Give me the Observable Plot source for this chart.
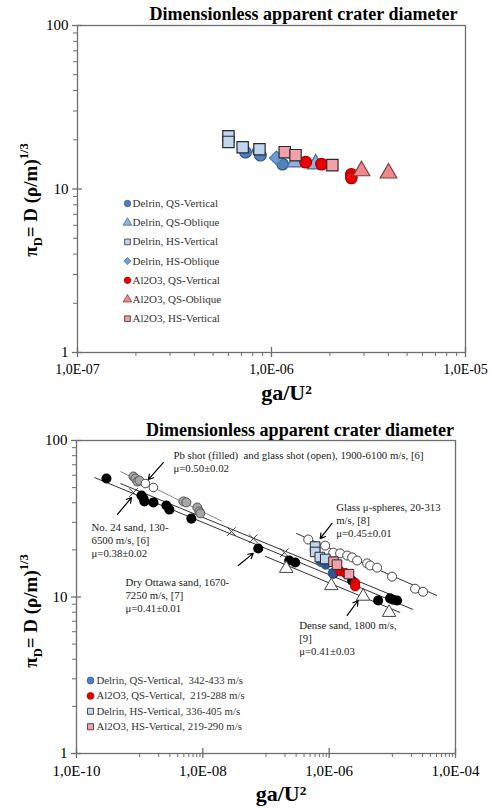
<!DOCTYPE html>
<html><head><meta charset="utf-8">
<script src="https://cdn.jsdelivr.net/npm/d3@7"></script>
<script src="https://cdn.jsdelivr.net/npm/@observablehq/plot@0.6"></script>
<style>
body{margin:0;background:#fff;width:492px;height:810px;overflow:hidden;font-family:'Liberation Serif',serif;}
#top,#bottom{position:absolute;left:0;}
#top{top:0px} #bottom{top:405px}
svg text{font-family:'Liberation Serif','Times New Roman',serif;}
</style></head><body>
<div id="top"></div><div id="bottom"></div>
<script>
// ---------- Data: this work (both panels) ----------
const delrinQSV_x = [7.35e-7, 8.57e-7, 8.77e-7, 1.14e-6];
const delrinQSV_y = [16.8, 17.1, 16.1, 14.2];
const delrinQSO_x = [1.33e-6, 1.69e-6];
const delrinQSO_y = [14.6, 14.2];
const delrinHSV_x = [6.0e-7, 6.0e-7, 7.1e-7, 8.67e-7];
const delrinHSV_y = [21.0, 19.4, 18.0, 17.5];
const delrinHSO_x = [1.06e-6];
const delrinHSO_y = [15.5];
const al2o3QSV_x = [1.50e-6, 1.81e-6, 2.58e-6, 2.58e-6];
const al2o3QSV_y = [14.6, 14.2, 12.3, 11.7];
const al2o3QSO_x = [2.91e-6, 4.01e-6];
const al2o3QSO_y = [12.9, 12.5];
const al2o3HSV_x = [1.17e-6, 1.33e-6, 2.06e-6];
const al2o3HSV_y = [16.8, 16.1, 14.0];

// ---------- Data: literature (bottom panel) ----------
const pbShot_x = [7.96e-10, 8.57e-10, 9.2e-10, 9.91e-10, 4.92e-9, 5.48e-9, 8.18e-9, 8.81e-9, 9.12e-9];
const pbShot_y = [58.9, 57.2, 54.7, 55.5, 40.8, 40.2, 37.3, 35.2, 34.2];
const glassShot_x = [1.23e-9, 1.65e-9];
const glassShot_y = [53.1, 50.1];
const no24Sand_x = [7.96e-10, 2.83e-8, 6.28e-8, 1.95e-7];
const no24Sand_y = [46.5, 26.2, 23.6, 19.2];
const ottawa_x = [2.98e-10, 1.07e-9, 1.15e-9, 1.19e-9, 1.65e-9, 2.65e-9, 2.95e-9, 6.58e-9, 7.53e-8, 2.33e-7, 2.90e-7, 1.16e-6, 2.31e-6, 5.96e-6, 9.2e-6, 1.03e-5, 1.19e-5];
const ottawa_y = [57.2, 44.5, 42.6, 40.8, 40.2, 38.4, 36.2, 31.7, 20.4, 17.1, 16.6, 14.1, 12.7, 9.5, 9.8, 9.6, 9.5];
const dense_x = [2.09e-7, 1.08e-6, 3.45e-6, 8.89e-6];
const dense_y = [15.2, 11.8, 10.1, 7.96];
const spheres_x = [4.66e-7, 8.65e-7, 1.16e-6, 1.49e-6, 1.93e-6, 2.31e-6, 2.77e-6, 3.99e-6, 4.45e-6, 5.74e-6, 9.9e-6, 2.29e-5, 3.06e-5];
const spheres_y = [23.3, 21.3, 19.2, 19.0, 18.4, 17.9, 17.1, 16.4, 15.9, 15.4, 13.5, 11.3, 10.8];

// fitted power-law lines (end points)
const fitX1 = [4.97e-10, 1.93e-10, 4.97e-10, 9.72e-8, 3.01e-7];
const fitY1 = [63.4, 58.0, 53.1, 18.2, 25.5];
const fitX2 = [2.03e-8, 2.13e-5, 1.33e-5, 1.33e-5, 5.11e-5];
const fitY2 = [30.4, 8.32, 9.78, 7.96, 10.2];

// annotations
const annoText = [
  "Pb shot (filled)  and glass shot (open), 1900-6100 m/s, [6]\nμ=0.50±0.02",
  "No. 24 sand, 130-\n6500 m/s, [6]\nμ=0.38±0.02",
  "Glass μ-spheres, 20-313\nm/s, [8]\nμ=0.45±0.01",
  "Dry Ottawa sand, 1670-\n7250 m/s, [7]\nμ=0.41±0.01",
  "Dense sand, 1800 m/s,\n[9]\nμ=0.41±0.03"
];
const annoX = [3.42e-9, 1.73e-10, 1.29e-6, 5.96e-10, 3.36e-7];
const annoY = [87.6, 30.4, 40.8, 13.5, 7.18];
const arrowX1 = [2.37e-9, 4.45e-10, 1.11e-6, 3.64e-8, 1.93e-6];
const arrowY1 = [72.3, 33.7, 29.5, 15.9, 7.62];
const arrowX2 = [1.37e-9, 7.42e-10, 7.21e-7, 6.28e-8, 2.87e-6];
const arrowY2 = [56.3, 43.2, 23.6, 19.0, 9.50];

// texts & ticks
const titleText = "Dimensionless apparent crater diameter";
const xLabel = "ga/U²";
const topLegend = ["Delrin, QS-Vertical", "Delrin, QS-Oblique", "Delrin, HS-Vertical", "Delrin, HS-Oblique", "Al2O3, QS-Vertical", "Al2O3, QS-Oblique", "Al2O3, HS-Vertical"];
const bottomLegend = ["Delrin, QS-Vertical,  342-433 m/s", "Al2O3, QS-Vertical,  219-288 m/s", "Delrin, HS-Vertical, 336-405 m/s", "Al2O3, HS-Vertical, 219-290 m/s"];
const topXTicks = [1e-7, 1e-6, 1e-5];
const bottomXTicks = [1e-10, 1e-8, 1e-6, 1e-4];
const yTicks = [1, 10, 100];
const mult = [2,3,4,5,6,7,8,9];

// ---------- styles ----------
const FONT = "'Liberation Serif', 'Times New Roman', serif";
const AX = "#6e6e6e";
const S = {
  dQSV: {symbol:"circle", fill:"#4f81bd", stroke:"#34598a"},
  dQSO: {symbol:"triangle", fill:"#8db3e2", stroke:"#4b6a92"},
  dHSV: {symbol:"square", fill:"#c2d5ee", stroke:"#2a2a2a"},
  dHSO: {symbol:"diamond2", fill:"#6f9bd6", stroke:"#4a78b0"},
  aQSV: {symbol:"circle", fill:"#ee0000", stroke:"#a80000"},
  aQSO: {symbol:"triangle", fill:"#ec8a8c", stroke:"#7a4040"},
  aHSV: {symbol:"square", fill:"#f2a1a9", stroke:"#2a2a2a"}
};

function fmtE(d){ const e = Math.round(Math.log10(d)); return "1,0E" + (e < 0 ? "-" : "+") + String(Math.abs(e)).padStart(2, "0"); }

function tickMarks(majorX, minorX, majorY, minorY, plotW, plotH){
  return [
    Plot.tickX(minorX, {x: d => d, stroke: AX, insetTop: plotH, insetBottom: -4}),
    Plot.tickX(majorX, {x: d => d, stroke: AX, strokeWidth: 1.3, insetTop: plotH - 5, insetBottom: -5}),
    Plot.tickY(minorY, {y: d => d, stroke: AX, insetLeft: -4, insetRight: plotW}),
    Plot.tickY(majorY, {y: d => d, stroke: AX, strokeWidth: 1.3, insetLeft: -5, insetRight: plotW - 5})
  ];
}

function series(xs, ys, st, r, extra={}){
  return Plot.dot(xs, {x: xs, y: ys, symbol: st.symbol, fill: st.fill, stroke: st.stroke, strokeWidth: 1.2, r, ...extra});
}

function addYLabel(svg, cx, cy){
  const t = d3.select(svg).append("text")
    .attr("transform", `translate(${cx},${cy}) rotate(-90)`)
    .attr("text-anchor", "middle")
    .attr("font-family", FONT).attr("font-weight", "bold").attr("font-size", 19).attr("fill", "#000");
  t.append("tspan").text("π");
  t.append("tspan").attr("font-size", 12.5).attr("dy", 5).text("D");
  t.append("tspan").attr("dy", -5).text("= D (ρ/m)");
  t.append("tspan").attr("font-size", 12.5).attr("dy", -9).text("1/3");
}

const txt = {fontFamily: FONT};

// ---------- top panel ----------
{
  const mL = 77, mR = 27, mT = 25, mB = 53, H = 405;
  const pw = 492 - mL - mR, ph = H - mT - mB;
  const minorX = [-7, -6].flatMap(e => mult.map(k => k * 10 ** e));
  const minorY = [0, 1].flatMap(e => mult.map(k => k * 10 ** e));
  const legStyles = [S.dQSV, S.dQSO, S.dHSV, S.dHSO, S.aQSV, S.aQSO, S.aHSV];
  const legendMarks = topLegend.flatMap((lab, i) => [
    Plot.dot([lab], {frameAnchor: "top-left", dx: 50, dy: 178 + i * 19.2, symbol: legStyles[i].symbol, fill: legStyles[i].fill, stroke: legStyles[i].stroke, strokeWidth: 0.8, r: 3.2}),
    Plot.text([lab], {...txt, frameAnchor: "top-left", lineAnchor: "middle", dx: 55, dy: 178 + i * 19.2, textAnchor: "start", fontSize: 11, fill: "#333", text: d => d})
  ]);
  const svg = Plot.plot({
    width: 492, height: H, marginLeft: mL, marginRight: mR, marginTop: mT, marginBottom: mB,
    style: {fontFamily: FONT, background: "#fff", color: "#000"},
    x: {type: "log", domain: [1e-7, 1e-5]},
    y: {type: "log", domain: [1, 100]},
    marks: [
      Plot.frame({stroke: AX, strokeWidth: 1.3}),
      ...tickMarks(topXTicks, minorX, yTicks, minorY, pw, ph),
      Plot.axisX({...txt, ticks: topXTicks, tickSize: 0, tickPadding: 12, tickFormat: fmtE, fontSize: 14, label: null}),
      Plot.axisY({...txt, ticks: yTicks, tickSize: 0, tickPadding: 9, tickFormat: d => String(d), fontSize: 15, label: null}),
      series(delrinQSV_x, delrinQSV_y, S.dQSV, 5.8),
      series(delrinQSO_x, delrinQSO_y, S.dQSO, 6.2),
      series(delrinHSO_x, delrinHSO_y, S.dHSO, 6.2),
      series(delrinHSV_x, delrinHSV_y, S.dHSV, 6.4),
      series(al2o3QSV_x, al2o3QSV_y, S.aQSV, 5.8),
      series(al2o3QSO_x, al2o3QSO_y, S.aQSO, 6.2),
      series(al2o3HSV_x, al2o3HSV_y, S.aHSV, 6.4),
      ...legendMarks,
      Plot.text([titleText], {...txt, frameAnchor: "top", lineAnchor: "middle", dx: 32, dy: -11, fontSize: 18, fontWeight: "bold", text: d => d}),
      Plot.text([xLabel], {...txt, frameAnchor: "bottom", lineAnchor: "bottom", dx: 15, dy: 47, fontSize: 22, fontWeight: "bold", text: d => d})
    ]
  });
  addYLabel(svg, 37, 200);
  document.getElementById("top").appendChild(svg);
}

// ---------- bottom panel ----------
{
  const mL = 76, mR = 37, mT = 35, mB = 57, H = 405;
  const pw = 492 - mL - mR, ph = H - mT - mB;
  const minorX = [-9, -7, -5].flatMap(e => [1, ...mult].map(k => k * 10 ** e));
  const minorY = [0, 1].flatMap(e => mult.map(k => k * 10 ** e));
  const legStyles = [S.dQSV, S.aQSV, S.dHSV, S.aHSV];
  const legendMarks = bottomLegend.flatMap((lab, i) => [
    Plot.dot([lab], {frameAnchor: "top-left", dx: 14, dy: 240 + i * 15.4, symbol: legStyles[i].symbol, fill: legStyles[i].fill, stroke: legStyles[i].stroke, strokeWidth: 0.8, r: 3.4}),
    Plot.text([lab], {...txt, frameAnchor: "top-left", lineAnchor: "middle", dx: 20, dy: 240 + i * 15.4, textAnchor: "start", fontSize: 10.8, fill: "#333", text: d => d})
  ]);
  const svg = Plot.plot({
    width: 492, height: H, marginLeft: mL, marginRight: mR, marginTop: mT, marginBottom: mB,
    style: {fontFamily: FONT, background: "#fff", color: "#000"},
    x: {type: "log", domain: [1e-10, 1e-4]},
    y: {type: "log", domain: [1, 100]},
    marks: [
      Plot.frame({stroke: AX, strokeWidth: 1.3}),
      ...tickMarks(bottomXTicks, minorX, yTicks, minorY, pw, ph),
      Plot.axisX({...txt, ticks: bottomXTicks, tickSize: 0, tickPadding: 12, tickFormat: fmtE, fontSize: 15, label: null}),
      Plot.axisY({...txt, ticks: yTicks, tickSize: 0, tickPadding: 9, tickFormat: d => String(d), fontSize: 15, label: null}),
      Plot.link(fitX1, {x1: fitX1, y1: fitY1, x2: fitX2, y2: fitY2, stroke: (d, i) => i === 0 ? "#8a8a8a" : "#333", strokeWidth: 1}),
      Plot.dot(no24Sand_x, {x: no24Sand_x, y: no24Sand_y, symbol: "times", stroke: "#444", strokeWidth: 1, r: 4}),
      Plot.dot(ottawa_x, {x: ottawa_x, y: ottawa_y, symbol: "circle", fill: "#000", stroke: "#000", r: 4.3}),
      Plot.dot(pbShot_x, {x: pbShot_x, y: pbShot_y, symbol: "circle", fill: "#a6a6a6", stroke: "#555", strokeWidth: 1, r: 4.5}),
      Plot.dot(glassShot_x, {x: glassShot_x, y: glassShot_y, symbol: "circle", fill: "#fff", stroke: "#444", strokeWidth: 1, r: 4.3}),
      Plot.dot(dense_x, {x: dense_x, y: dense_y, symbol: "triangle", fill: "#fff", stroke: "#444", strokeWidth: 1, r: 5}),
      Plot.dot(spheres_x, {x: spheres_x, y: spheres_y, symbol: "circle", fill: "#fff", stroke: "#444", strokeWidth: 1, r: 4.5}),
      series(delrinQSV_x, delrinQSV_y, {...S.dQSV, fill: "#2f5597"}, 4.6, {strokeWidth: 1}),
      series(delrinHSV_x, delrinHSV_y, S.dHSV, 5.4, {strokeWidth: 1}),
      series(al2o3QSV_x, al2o3QSV_y, S.aQSV, 4.6, {strokeWidth: 1}),
      series(al2o3HSV_x, al2o3HSV_y, S.aHSV, 5.4, {strokeWidth: 1}),
      Plot.arrow(arrowX1, {x1: arrowX1, y1: arrowY1, x2: arrowX2, y2: arrowY2, stroke: "#000", strokeWidth: 1.2, headLength: 7}),
      Plot.text(annoText, {...txt, x: annoX, y: annoY, text: d => d, textAnchor: "start", lineAnchor: "top", lineHeight: 1.22, fontSize: 10.8, fill: "#222"}),
      ...legendMarks,
      Plot.text([titleText], {...txt, frameAnchor: "top", lineAnchor: "middle", dx: 34, dy: -10, fontSize: 18, fontWeight: "bold", text: d => d}),
      Plot.text([xLabel], {...txt, frameAnchor: "bottom", lineAnchor: "bottom", dx: 15, dy: 47, fontSize: 22, fontWeight: "bold", text: d => d})
    ]
  });
  addYLabel(svg, 37, 206);
  document.getElementById("bottom").appendChild(svg);
}
</script>
</body></html>
